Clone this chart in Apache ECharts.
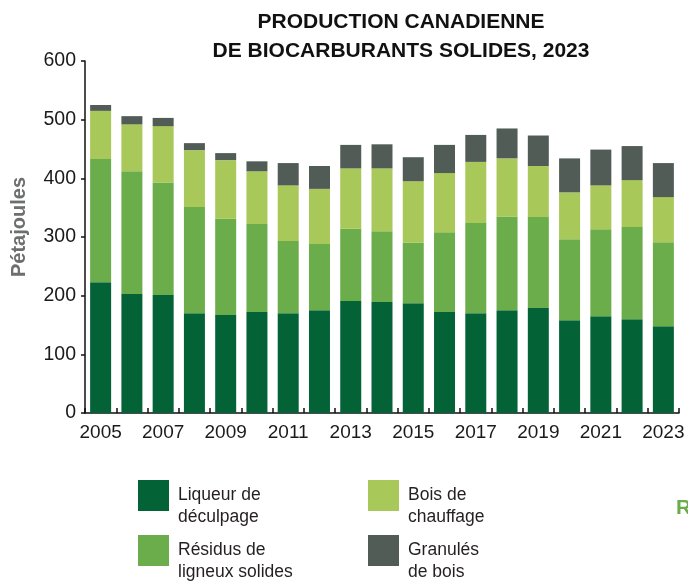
<!DOCTYPE html>
<html>
<head>
<meta charset="utf-8">
<script src="https://cdn.jsdelivr.net/npm/echarts@6/dist/echarts.min.js"></script>
<style>
    html, body { margin: 0; padding: 0; background: #ffffff; }
    #chart { width: 688px; height: 588px; }
</style>
</head>
<body>
<div id="chart"></div>
<script>
// Production canadienne de biocarburants solides (PJ)
const years = ['2005', '2006', '2007', '2008', '2009', '2010', '2011', '2012', '2013', '2014',
    '2015', '2016', '2017', '2018', '2019', '2020', '2021', '2022', '2023']
const liqueur = [223, 203, 201, 170, 167, 172, 170, 175, 191, 189, 187, 172, 170, 175, 179, 158, 165, 160, 148]
const residus = [210, 209, 192, 181, 164, 150, 123, 113, 123, 121, 103, 136, 154, 160, 155, 138, 148, 157, 143]
const boisChauffage = [82, 80, 96, 97, 100, 90, 95, 94, 103, 107, 105, 101, 104, 99, 87, 80, 75, 80, 77]
const granules = [10, 14, 14, 12, 12, 17, 38, 39, 40, 41, 41, 48, 46, 51, 52, 58, 61, 58, 58]
const yTicks = [0, 600, 100] // min, max, pas

const FONT = '"Liberation Sans", Arial, sans-serif'
const COLORS = ['#036337', '#6bac4b', '#a8c85a', '#525c57']
const names = ['Liqueur de\ndéculpage', 'Résidus de\nligneux solides', 'Bois de\nchauffage', 'Granulés\nde bois']

// case carrée en haut d'une icône plus grande, pour que le texte sur 2 lignes
// commence à mi-hauteur de la case et un peu plus à droite, comme sur l'original
const LEGEND_ICON = 'path://M0,0H31V31H0Z M0,53H35'

// une légende par item pour placer chaque case comme sur l'original
function legendAt(name, left, top) {
    return {
        data: [name],
        left: left,
        top: top,
        padding: 0,
        itemWidth: 35,
        itemHeight: 53,
        icon: LEGEND_ICON,
        selectedMode: false,
        textStyle: {
            fontFamily: FONT,
            fontSize: 17.5,
            lineHeight: 22,
            color: '#231f20',
        },
    }
}

const chart = echarts.init(document.getElementById('chart'))
const option = {
    animation: false,
    color: COLORS,
    title: [
        {
            text: 'PRODUCTION CANADIENNE\nDE BIOCARBURANTS SOLIDES, 2023',
            left: 396,
            top: 3,
            textAlign: 'center',
            textStyle: {
                fontFamily: FONT,
                fontWeight: 'bold',
                fontSize: 21,
                lineHeight: 29,
                color: '#111111',
            },
        },
        {
            text: 'R',
            left: 671,
            top: 493,
            textStyle: {
                fontFamily: FONT,
                fontWeight: 'bold',
                fontSize: 21,
                color: '#6bac4b',
            },
        },
    ],
    legend: [
        legendAt(names[0], 138, 480),
        legendAt(names[1], 138, 535),
        legendAt(names[2], 368, 480),
        legendAt(names[3], 368, 535),
    ],
    grid: {
        left: 85,
        right: 9,
        top: 61,
        bottom: 175,
    },
    xAxis: {
        type: 'category',
        data: years,
        boundaryGap: true,
        axisLine: { lineStyle: { color: '#111111', width: 1.5 } },
        axisTick: {
            show: true,
            inside: true,
            length: 5,
            interval: 0,
            lineStyle: { color: '#111111', width: 1.5 },
        },
        axisLabel: {
            interval: 1,
            margin: 10,
            fontFamily: FONT,
            fontSize: 19,
            color: '#1a1a1a',
        },
    },
    yAxis: {
        type: 'value',
        min: yTicks[0],
        max: yTicks[1],
        interval: yTicks[2],
        name: 'Pétajoules',
        nameLocation: 'middle',
        nameRotate: 90,
        nameGap: 56,
        nameTextStyle: {
            fontFamily: FONT,
            fontWeight: 'bold',
            fontSize: 20,
            color: '#6d6e70',
            padding: [0, 0, 0, 20],
        },
        splitLine: { show: false },
        axisLine: { show: true, lineStyle: { color: '#111111', width: 1.5 } },
        axisTick: { show: true, length: 4, lineStyle: { color: '#111111', width: 1.5 } },
        axisLabel: {
            margin: 9,
            fontFamily: FONT,
            fontSize: 19.5,
            color: '#1a1a1a',
        },
    },
    series: [
        { name: names[0], data: liqueur },
        { name: names[1], data: residus },
        { name: names[2], data: boisChauffage },
        {
            name: names[3],
            data: granules,
            // petit trait en haut de l'axe Y, à 600
            markLine: {
                silent: true,
                symbol: 'none',
                label: { show: false },
                lineStyle: { color: '#111111', width: 1.5, type: 'solid' },
                data: [[{ coord: [-0.5, yTicks[1]] }, { coord: [0, yTicks[1]] }]],
            },
        },
    ].map((s) => Object.assign({
        type: 'bar',
        stack: 'total',
        barWidth: 21,
        emphasis: { disabled: true },
    }, s)),
}
chart.setOption(option)
</script>
</body>
</html>
